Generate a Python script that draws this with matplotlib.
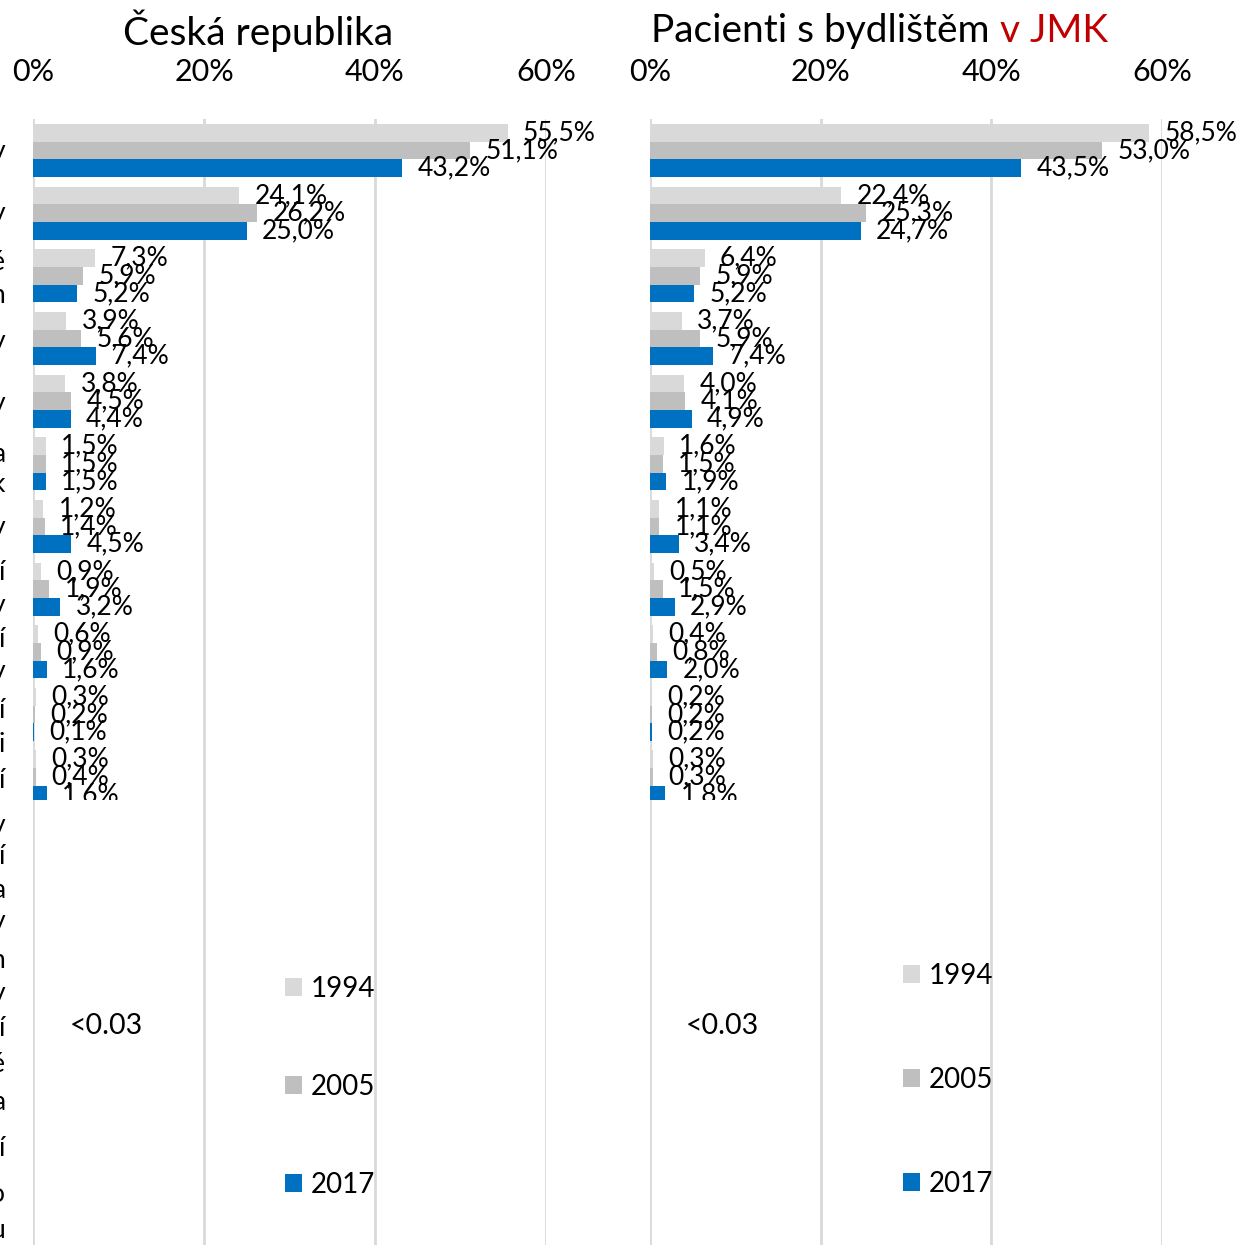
import matplotlib
matplotlib.use("Agg")
import matplotlib.pyplot as plt
from matplotlib.patches import Rectangle

plt.rcParams['font.family'] = ['Lato', 'DejaVu Sans']

# hodnoty (%) po skupinach, horni skupina prvni
years = ["1994", "2005", "2017"]
cr_1994 = [55.5, 24.1, 7.3, 3.9, 3.8, 1.5, 1.2, 0.9, 0.6, 0.3, 0.3]
cr_2005 = [51.1, 26.2, 5.9, 5.6, 4.5, 1.5, 1.4, 1.9, 0.9, 0.2, 0.4]
cr_2017 = [43.2, 25.0, 5.2, 7.4, 4.4, 1.5, 4.5, 3.2, 1.6, 0.1, 1.6]
jmk_1994 = [58.5, 22.4, 6.4, 3.7, 4.0, 1.6, 1.1, 0.5, 0.4, 0.2, 0.3]
jmk_2005 = [53.0, 25.3, 5.9, 5.9, 4.1, 1.5, 1.1, 1.5, 0.8, 0.2, 0.3]
jmk_2017 = [43.5, 24.7, 5.2, 7.4, 4.9, 1.9, 3.4, 2.9, 2.0, 0.2, 1.8]
ticks = [0, 20, 40, 60]
tick_labels = ["0%", "20%", "40%", "60%"]
# oriznute popisky kategorii (viditelny jen posledni znak)
cat_chars = ["y", "y", "é", "n", "y", "y", "a", "k", "y", "í", "y", "í", "y", "í",
             "i", "í", "y", "í", "a", "y", "n", "y", "í", "é", "a", "í", "o", "u"]
cat_y = [152, 214, 262, 296, 342, 404, 455, 484, 528, 572, 606, 640, 672, 710,
         744, 781, 825, 857, 890, 922, 960, 993, 1028, 1065, 1103, 1148, 1194, 1230]

colors = ["#D9D9D9", "#BFBFBF", "#0070C0"]
W, H = 1237, 1245
fig = plt.figure(figsize=(W / 100, H / 100), dpi=100)

pitch = 62.65
c0 = 150.5
top_px = 119
ymax = (H - c0) / pitch
ymin = (top_px - c0) / pitch
clip_y = (800 - c0) / pitch
bh = 17.7 / pitch


def panel(x0, x1, series, leg_x, leg_y, leg_space):
    ax = fig.add_axes([x0 / W, 0, (x1 - x0) / W, 1 - top_px / H])
    ax.set_xlim(0, 60)
    ax.set_ylim(ymax, ymin)
    clip = Rectangle((-20, ymin), 200, clip_y - ymin, transform=ax.transData)
    n = len(series[0])
    for k, vals in enumerate(series):
        ys = [i + (k - 1) * bh for i in range(n)]
        bars = ax.barh(ys, vals, height=bh, color=colors[k], label=years[k], zorder=2)
        for b in bars:
            b.set_clip_path(clip)
        for y, v in zip(ys, vals):
            t = ax.annotate(f"{v:.1f}%".replace(".", ","), xy=(v, y), xytext=(11, 0),
                            textcoords="offset points", va="center", ha="left",
                            fontsize=19, color="black", zorder=3,
                            annotation_clip=False)
            t.set_clip_on(True)
            t.set_clip_box(None)
            t.set_clip_path(clip)
    ax.set_xticks(ticks)
    ax.set_xticklabels(tick_labels, fontsize=22)
    ax.xaxis.tick_top()
    ax.tick_params(axis="x", length=0, pad=24)
    ax.set_yticks([])
    ax.grid(axis="x", color="#D9D9D9", linewidth=2)
    ax.set_axisbelow(True)
    for s in ax.spines.values():
        s.set_visible(False)
    ax.legend(loc="upper left",
              bbox_to_anchor=((leg_x - x0) / (x1 - x0), 1 - (leg_y - top_px) / (H - top_px)),
              bbox_transform=ax.transAxes, frameon=False, fontsize=20,
              handlelength=0.6, handleheight=0.6, handletextpad=0.32,
              labelspacing=leg_space, borderpad=0, borderaxespad=0)
    return ax


ax1 = panel(33, 546, [cr_1994, cr_2005, cr_2017], 285, 976, 2.59)
ax2 = panel(650, 1162, [jmk_1994, jmk_2005, jmk_2017], 903, 963, 2.8)

for ch, y in zip(cat_chars, cat_y):
    fig.text(5 / W, 1 - y / H, ch, ha="right", va="center", fontsize=19)

fig.text(70 / W, 1 - 1026 / H, "<0.03", ha="left", va="center", fontsize=20.5)
fig.text(686 / W, 1 - 1026 / H, "<0.03", ha="left", va="center", fontsize=20.5)

fig.text(123 / W, 1 - 31 / H, "Česká republika", ha="left", va="center", fontsize=28)
t1 = fig.text(651 / W, 1 - 31 / H, "Pacienti s bydlištěm ", ha="left", va="center", fontsize=28)
ax2.annotate("v JMK", xy=(1, 0), xycoords=t1, ha="left", va="bottom",
             fontsize=28, color="#C00000", annotation_clip=False)

fig.savefig("out.png", dpi=100)
